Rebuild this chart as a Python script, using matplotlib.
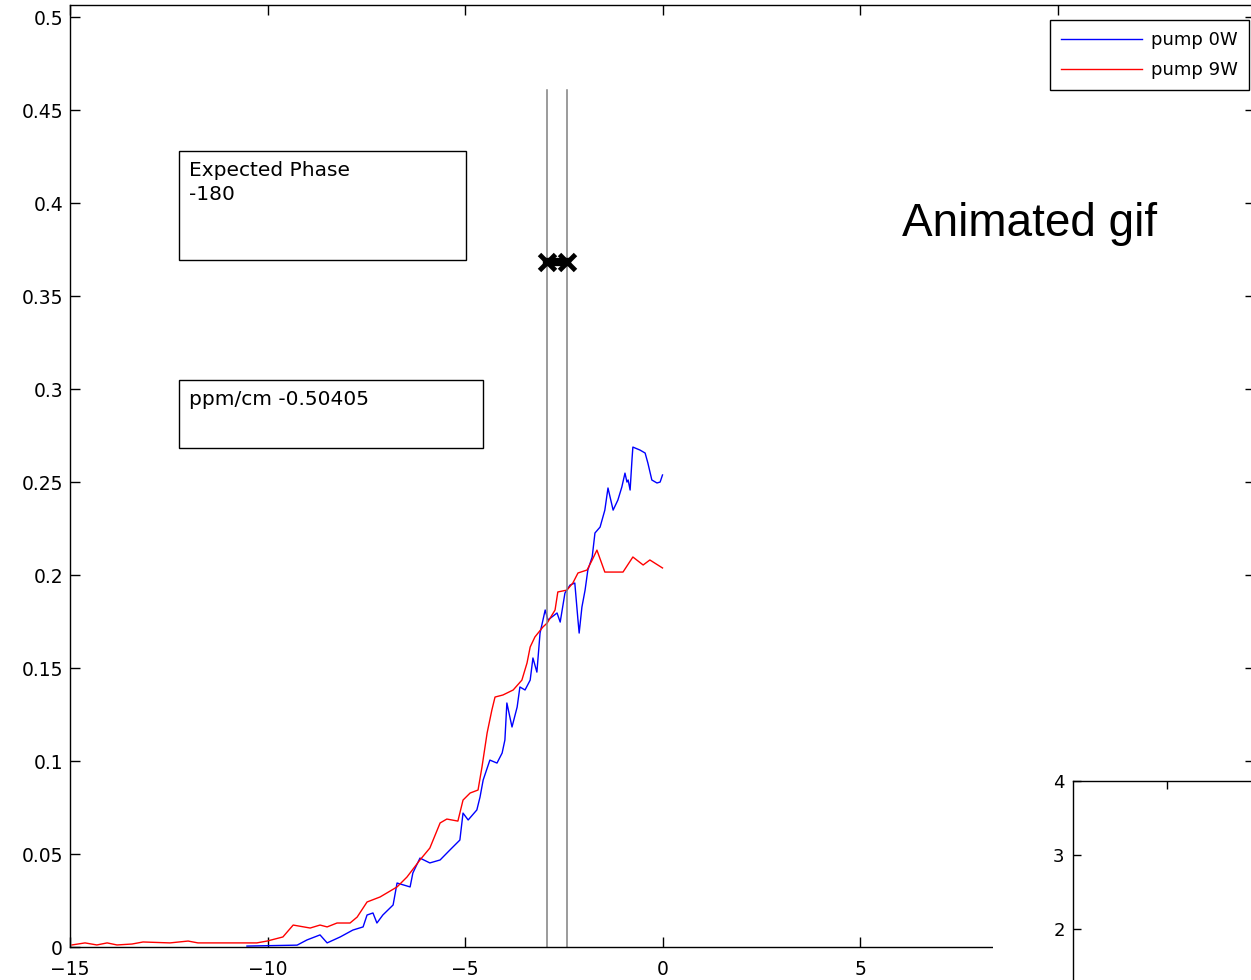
import matplotlib
matplotlib.use("Agg")
import matplotlib.pyplot as plt

# pump 0W (blue)
x_0w = [-10.52, -9.25, -9.00, -8.67, -8.49, -8.16, -7.84, -7.58, -7.48, -7.33,
        -7.23, -7.08, -6.82, -6.72, -6.39, -6.32, -6.14, -5.89, -5.63, -5.38,
        -5.13, -5.05, -4.92, -4.70, -4.62, -4.54, -4.37, -4.19, -4.06, -3.99,
        -3.94, -3.81, -3.68, -3.61, -3.48, -3.35, -3.28, -3.18, -3.10, -2.97,
        -2.90, -2.67, -2.59, -2.47, -2.34, -2.22, -2.14, -2.11, -2.04, -1.96,
        -1.89, -1.78, -1.71, -1.58, -1.46, -1.38, -1.25, -1.13, -1.03, -0.95,
        -0.90, -0.87, -0.82, -0.77, -0.75, -0.57, -0.44, -0.37, -0.27, -0.14,
        -0.06, 0.0]
y_0w = [0.0005, 0.001, 0.0038, 0.0065, 0.0022, 0.0054, 0.0091, 0.0108, 0.0172, 0.0183,
        0.0129, 0.0172, 0.0226, 0.0344, 0.0323, 0.0398, 0.0478, 0.0452, 0.0468, 0.0522,
        0.0575, 0.0720, 0.0683, 0.0737, 0.0806, 0.0898, 0.1005, 0.0989, 0.1043, 0.1113,
        0.1312, 0.1183, 0.1290, 0.1398, 0.1382, 0.1435, 0.1554, 0.1478, 0.1688, 0.1812,
        0.1758, 0.1796, 0.1747, 0.1903, 0.1946, 0.1957, 0.1758, 0.1688, 0.1828, 0.1919,
        0.2027, 0.2097, 0.2226, 0.2258, 0.2349, 0.2468, 0.2349, 0.2403, 0.2473, 0.2548,
        0.2500, 0.2511, 0.2457, 0.2629, 0.2688, 0.2672, 0.2656, 0.2602, 0.2511, 0.2495,
        0.2500, 0.2538]

# pump 9W (red)
x_9w = [-14.95, -14.62, -14.32, -14.06, -13.81, -13.43, -13.15, -12.47, -12.01, -11.76,
        -10.27, -10.01, -9.61, -9.35, -8.92, -8.67, -8.49, -8.24, -7.91, -7.73,
        -7.48, -7.15, -6.72, -6.47, -6.14, -5.89, -5.63, -5.46, -5.18, -5.05,
        -4.87, -4.67, -4.57, -4.44, -4.32, -4.24, -4.04, -3.78, -3.56, -3.43,
        -3.35, -3.23, -3.03, -2.92, -2.72, -2.65, -2.42, -2.27, -2.14, -1.91,
        -1.78, -1.66, -1.46, -1.00, -0.75, -0.49, -0.32, 0.0]
y_9w = [0.0011, 0.0022, 0.0011, 0.0022, 0.0011, 0.0016, 0.0027, 0.0022, 0.0032, 0.0022,
        0.0022, 0.0032, 0.0054, 0.0118, 0.0102, 0.0118, 0.0108, 0.0129, 0.0129, 0.0161,
        0.0242, 0.0269, 0.0323, 0.0376, 0.0468, 0.0532, 0.0667, 0.0688, 0.0677, 0.0790,
        0.0828, 0.0844, 0.0968, 0.1151, 0.1274, 0.1344, 0.1355, 0.1382, 0.1435, 0.1527,
        0.1613, 0.1667, 0.1720, 0.1742, 0.1812, 0.1909, 0.1919, 0.1957, 0.2011, 0.2027,
        0.2081, 0.2134, 0.2016, 0.2016, 0.2097, 0.2054, 0.2081, 0.2038]

line_x = [-2.92, -2.42]
line_top = 0.4608
marker_y = 0.3683
expected_phase = -180
ppm_cm = -0.50405

x_ticks = [-15, -10, -5, 0, 5, 10, 15]
x_ticklabels = ['\u221215', '\u221210', '\u22125', '0', '5', '', '']
y_ticks = [0, 0.05, 0.1, 0.15, 0.2, 0.25, 0.3, 0.35, 0.4, 0.45, 0.5]
y_ticklabels = ['0', '0.05', '0.1', '0.15', '0.2', '0.25', '0.3', '0.35', '0.4', '0.45', '0.5']
inset_ticks = [2, 3, 4]

plt.rcParams['font.family'] = ['DejaVu Sans']
W, H = 1251, 980
fig = plt.figure(figsize=(W / 100, H / 100), dpi=100)

ax = fig.add_axes([70 / W, 33 / H, 1185 / W, 942 / H])
ax.plot(x_0w, y_0w, color='#0000ff', lw=1.0, label='pump 0W')
ax.plot(x_9w, y_9w, color='#ff0000', lw=1.0, label='pump 9W')
for xv in line_x:
    ax.plot([xv, xv], [0, line_top], color='#808080', lw=1.1)
ax.plot(line_x, [marker_y, marker_y], ls='-', lw=6, marker='x', color='black',
        markersize=12, markeredgewidth=3.5)

ax.set_xlim(-15, 15)
ax.set_ylim(0, 0.5065)
ax.set_xticks(x_ticks)
ax.set_xticklabels(x_ticklabels)
ax.set_yticks(y_ticks)
ax.set_yticklabels(y_ticklabels)
ax.tick_params(direction='in', length=7, width=1, top=True, right=True,
               labelsize=13.5, pad=5)
ax.tick_params(axis='x', pad=9)
for s in ax.spines.values():
    s.set_linewidth(1.0)

# annotation boxes
ax.add_patch(plt.Rectangle((-12.24, 0.3694), 7.27, 0.0586, fill=False, ec='black', lw=1.0))
ax.text(-11.99, 0.4225, 'Expected Phase\n' + str(expected_phase), fontsize=14.5,
        va='top', ha='left', linespacing=1.3)
ax.add_patch(plt.Rectangle((-12.24, 0.2683), 7.70, 0.0365, fill=False, ec='black', lw=1.0))
ax.text(-11.99, 0.2995, 'ppm/cm ' + str(ppm_cm), fontsize=14.5, va='top', ha='left')

leg = ax.legend(loc='upper right', bbox_to_anchor=(1249 / W, 1 - 20 / H),
                bbox_transform=fig.transFigure, fontsize=13, handlelength=4.5,
                fancybox=False, framealpha=1, edgecolor='black', borderaxespad=0,
                borderpad=0.6, labelspacing=0.7, handletextpad=0.5)
leg.get_frame().set_linewidth(1.0)

# white cover where the second axes sits
cover = fig.add_axes([993 / W, 0, 1 - 993 / W, 60 / H])
cover.set_facecolor('white')
cover.set_xticks([])
cover.set_yticks([])
for s in cover.spines.values():
    s.set_visible(False)

ax2 = fig.add_axes([1073 / W, (980 - 1077) / H, 375 / W, 296 / H])
ax2.set_xlim(0, 4)
ax2.set_ylim(0, 4)
ax2.set_xticks([1])
ax2.set_xticklabels([])
ax2.set_yticks(inset_ticks)
ax2.tick_params(direction='in', length=6, width=1, top=True, labelsize=13, pad=6)
for s in ax2.spines.values():
    s.set_linewidth(1.0)

fig.text(902 / W, 1 - 236 / H, 'Animated gif', fontsize=33, family='Liberation Sans',
         ha='left', va='baseline')

fig.savefig('out.png', dpi=100)
